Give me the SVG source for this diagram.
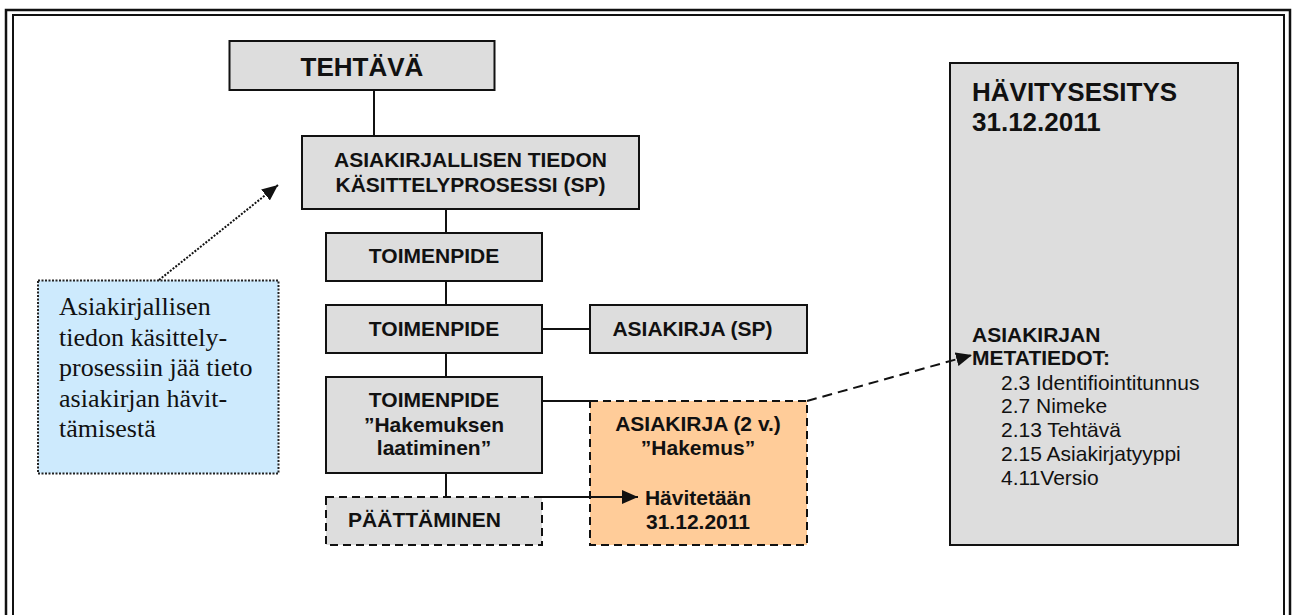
<svg xmlns="http://www.w3.org/2000/svg" width="1292" height="615" viewBox="0 0 1292 615">
<style>
.box{fill:#dddddd;stroke:#111;stroke-width:2}
.dash{stroke-dasharray:8 5}
.orange{fill:#ffcc99}
.note{fill:#cdeafd;stroke:#222;stroke-width:2;stroke-dasharray:2 1.5}
.lbl{font-family:"Liberation Sans",Arial,sans-serif;font-weight:bold;font-size:21px;fill:#111;text-anchor:middle}
.lbs{font-family:"Liberation Sans",Arial,sans-serif;font-weight:bold;font-size:21px;fill:#111}
.big{font-family:"Liberation Sans",Arial,sans-serif;font-weight:bold;font-size:26px;fill:#111}
.reg{font-family:"Liberation Sans",Arial,sans-serif;font-size:21px;fill:#111}
.serif{font-family:"Liberation Serif","Times New Roman",serif;font-size:26px;fill:#111}
.con{stroke:#111;stroke-width:2;fill:none}
</style>
<defs>
<marker id="ah" markerUnits="userSpaceOnUse" markerWidth="18" markerHeight="14" refX="16" refY="7" orient="auto">
<path d="M0,0 L16,7 L0,14 z" fill="#111"/>
</marker>
</defs>
<rect x="0" y="0" width="1292" height="615" fill="#fff"/>
<g id="frame" fill="none" stroke="#111">
<rect x="6" y="10" width="1284" height="700" stroke-width="2.5"/>
<rect x="13" y="15" width="1271" height="700" stroke-width="2"/>
</g>
<g id="tehtava">
<rect class="box" x="229.5" y="41" width="265" height="49" stroke-width="2.5"/>
<text class="big" x="362" y="76" text-anchor="middle">TEHTÄVÄ</text>
</g>
<g id="kasittelyprosessi">
<rect class="box" x="302" y="136" width="337" height="73"/>
<text class="lbl" x="470.5" y="167">ASIAKIRJALLISEN TIEDON</text>
<text class="lbl" x="470.5" y="192">KÄSITTELYPROSESSI (SP)</text>
</g>
<g id="toimenpide1">
<rect class="box" x="326" y="233" width="216" height="48"/>
<text class="lbl" x="434" y="263">TOIMENPIDE</text>
</g>
<g id="toimenpide2">
<rect class="box" x="326" y="305" width="216" height="48"/>
<text class="lbl" x="434" y="336">TOIMENPIDE</text>
</g>
<g id="asiakirja-sp">
<rect class="box" x="590" y="305" width="217" height="48"/>
<text class="lbl" x="692.5" y="336">ASIAKIRJA (SP)</text>
</g>
<g id="toimenpide3">
<rect class="box" x="326" y="377" width="216" height="96"/>
<text class="lbl" x="434" y="407">TOIMENPIDE</text>
<text class="lbl" x="434" y="432">”Hakemuksen</text>
<text class="lbl" x="434" y="455">laatiminen”</text>
</g>
<g id="paattaminen">
<rect class="box dash" x="326" y="497" width="216" height="48"/>
<text class="lbl" x="424.5" y="527">PÄÄTTÄMINEN</text>
</g>
<g id="asiakirja-hakemus">
<rect class="box dash orange" x="590" y="401" width="217" height="144"/>
<text class="lbl" x="698" y="431">ASIAKIRJA (2 v.)</text>
<text class="lbl" x="698" y="455">”Hakemus”</text>
<text class="lbl" x="698" y="505">Hävitetään</text>
<text class="lbl" x="698" y="529">31.12.2011</text>
</g>
<g id="havitysesitys">
<rect class="box" x="950" y="63" width="288" height="482"/>
<text class="big" x="972" y="101">HÄVITYSESITYS</text>
<text class="big" x="972" y="131">31.12.2011</text>
<text class="lbs" x="972" y="342">ASIAKIRJAN</text>
<text class="lbs" x="972" y="365">METATIEDOT:</text>
<text class="reg" x="1001" y="390">2.3 Identifiointitunnus</text>
<text class="reg" x="1001" y="413">2.7 Nimeke</text>
<text class="reg" x="1001" y="437">2.13 Tehtävä</text>
<text class="reg" x="1001" y="461">2.15 Asiakirjatyyppi</text>
<text class="reg" x="1001" y="485">4.11Versio</text>
</g>
<g id="note">
<rect class="note" x="38" y="280.5" width="240.5" height="193"/>
<text class="serif" x="59" y="315">Asiakirjallisen</text>
<text class="serif" x="59" y="345.5">tiedon käsittely-</text>
<text class="serif" x="59" y="376">prosessiin jää tieto</text>
<text class="serif" x="59" y="406.5">asiakirjan hävit-</text>
<text class="serif" x="59" y="437">tämisestä</text>
</g>
<g id="connectors">
<line class="con" x1="374" y1="90" x2="374" y2="136"/>
<line class="con" x1="446" y1="209" x2="446" y2="233"/>
<line class="con" x1="446" y1="281" x2="446" y2="305"/>
<line class="con" x1="446" y1="353" x2="446" y2="377"/>
<line class="con" x1="446" y1="473" x2="446" y2="497"/>
<line class="con" x1="542" y1="329" x2="590" y2="329"/>
<line class="con" x1="542" y1="401" x2="590" y2="401"/>
<line class="con" x1="542" y1="497" x2="638" y2="497" marker-end="url(#ah)"/>
<line class="con" x1="807" y1="401" x2="972" y2="355" stroke-width="2.5" stroke-dasharray="10 6" marker-end="url(#ah)"/>
<line class="con" x1="159" y1="280" x2="278" y2="185" stroke-width="2.5" stroke-dasharray="2 1.5" marker-end="url(#ah)"/>
</g>
</svg>
